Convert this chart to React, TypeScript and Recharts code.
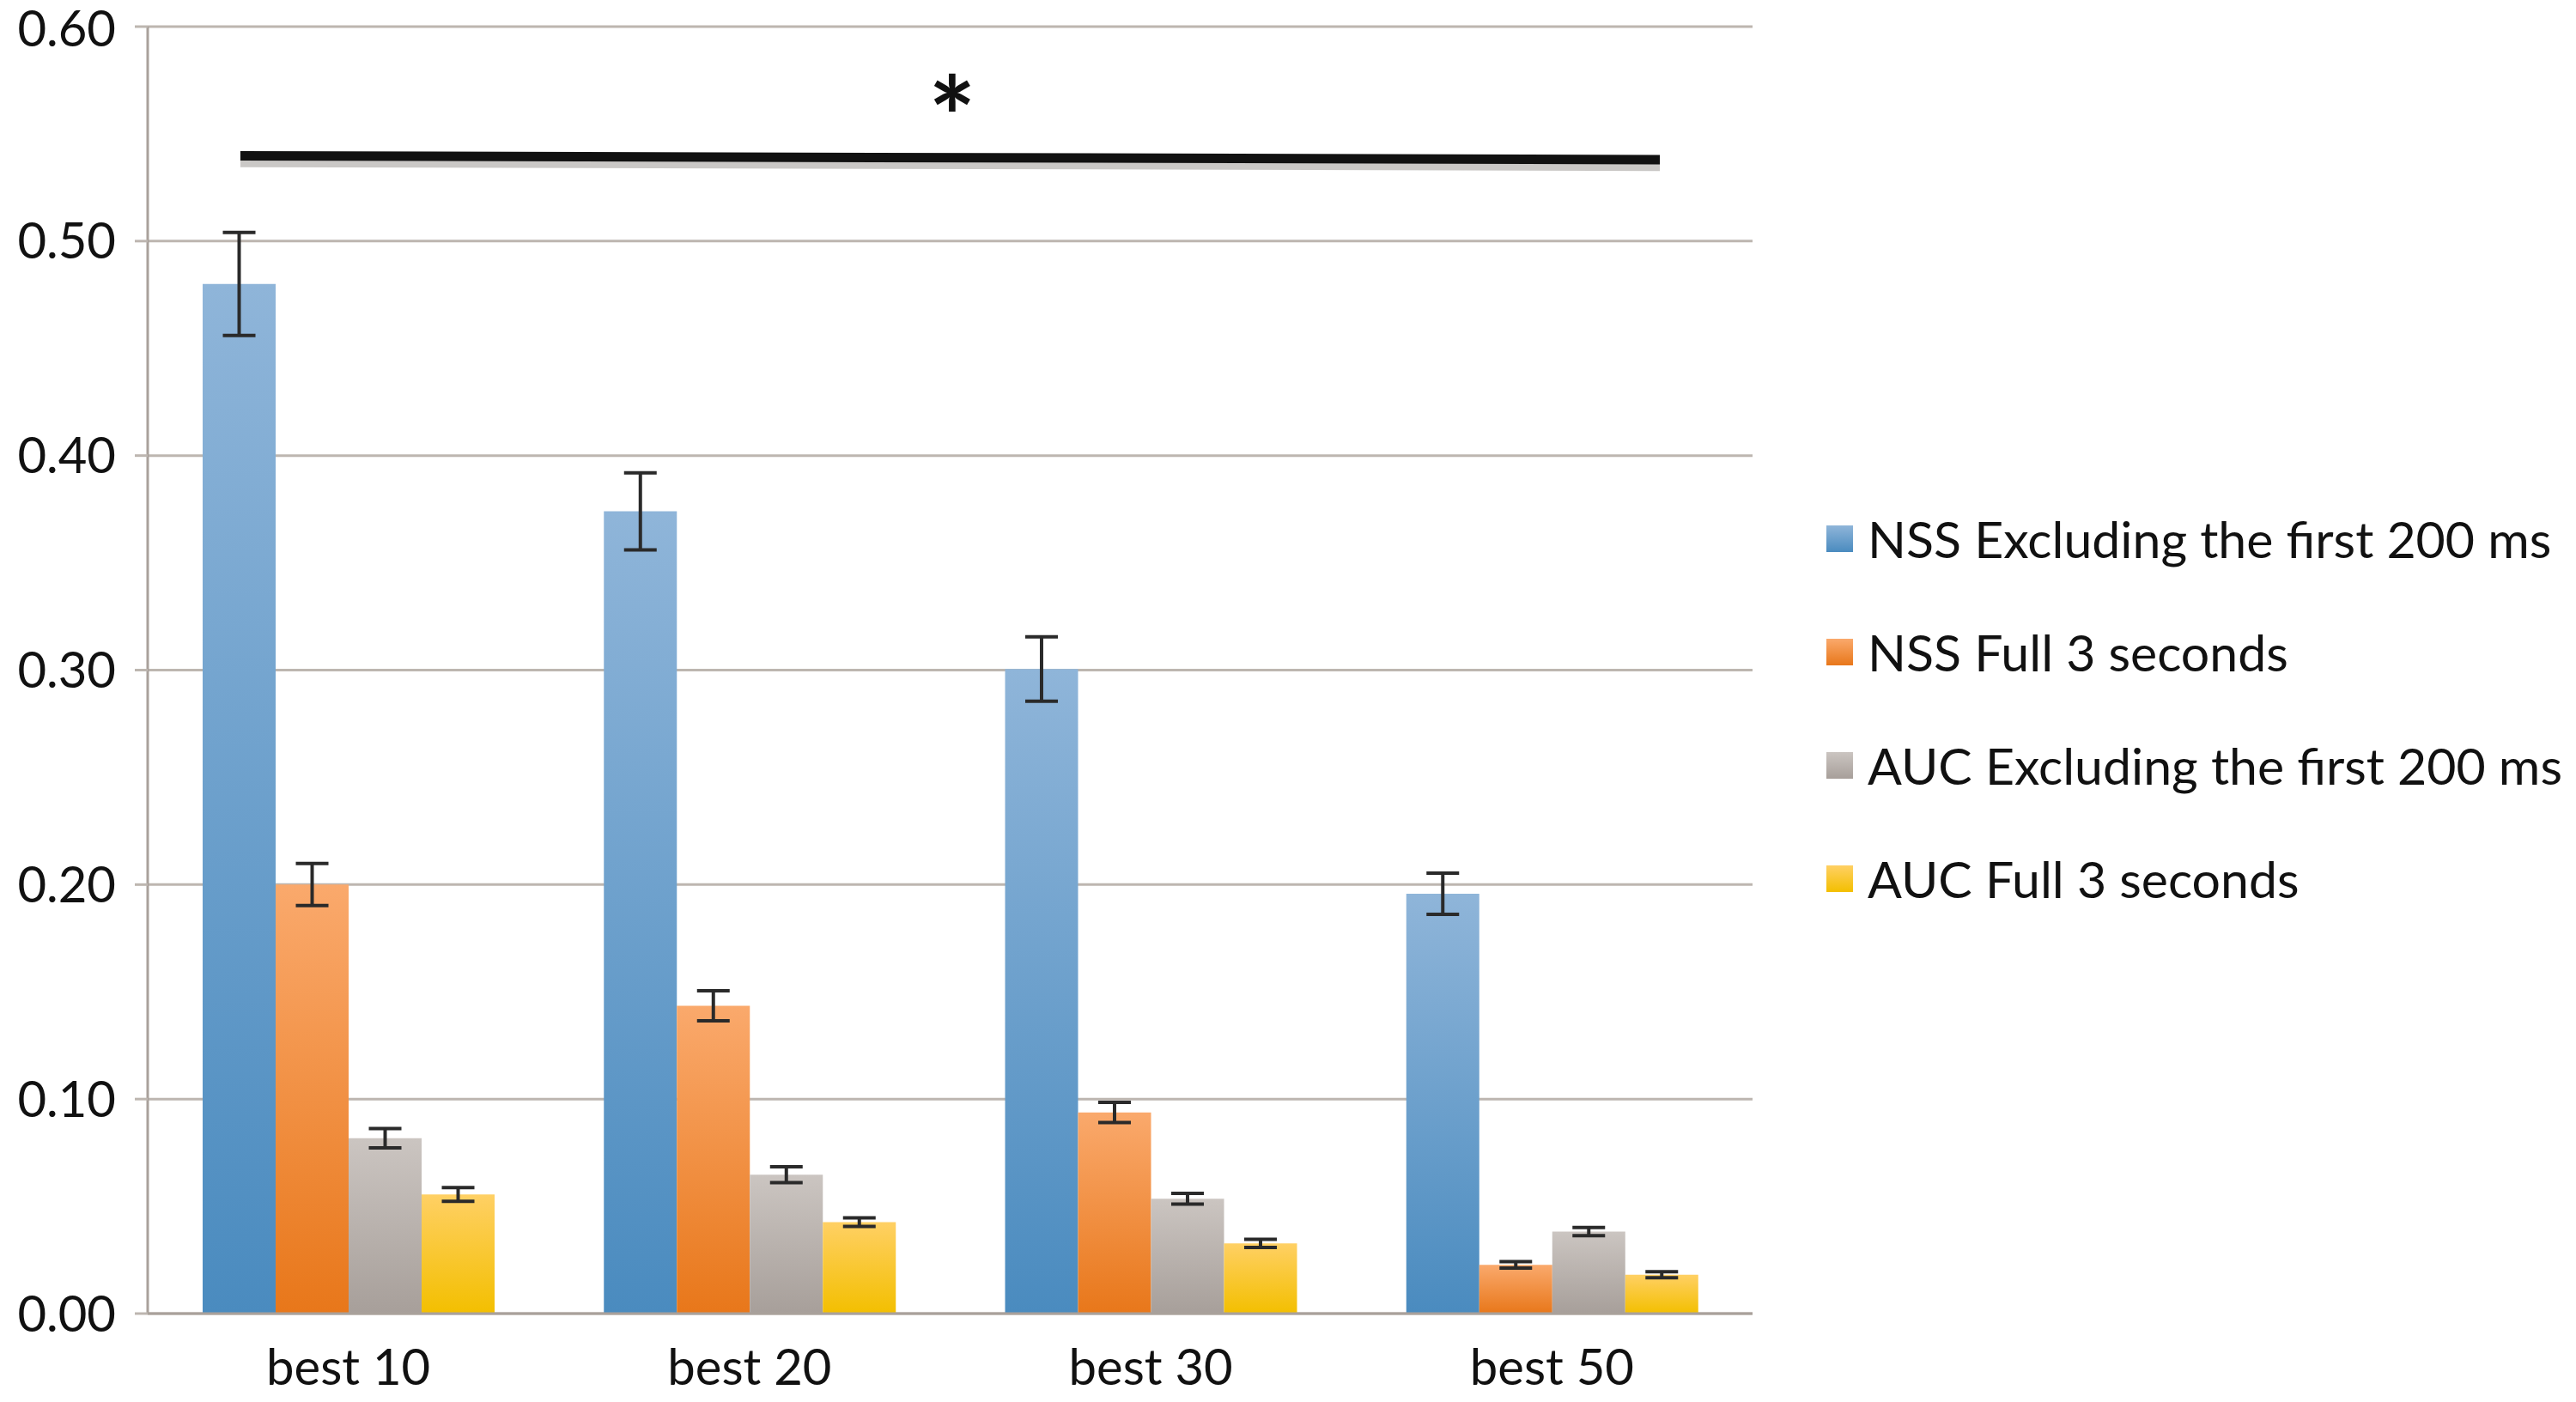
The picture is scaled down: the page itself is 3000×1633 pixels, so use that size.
import React from "react";
import {
  BarChart,
  Bar,
  XAxis,
  YAxis,
  CartesianGrid,
  ErrorBar,
  Legend,
  ReferenceLine,
  ReferenceDot,
} from "recharts";

const categories = ["best 10", "best 20", "best 30", "best 50"];
const positions = [0.5, 1.5, 2.5, 3.5];

const nssExcl = [0.48, 0.374, 0.3005, 0.1957];
const nssExclErr = [0.024, 0.018, 0.015, 0.0096];
const nssFull = [0.2, 0.1435, 0.0938, 0.0227];
const nssFullErr = [0.0098, 0.007, 0.0047, 0.0015];
const aucExcl = [0.0818, 0.0647, 0.0535, 0.0382];
const aucExclErr = [0.0045, 0.0037, 0.0025, 0.0019];
const aucFull = [0.0555, 0.0426, 0.0327, 0.0181];
const aucFullErr = [0.0032, 0.002, 0.0019, 0.0014];

const yTicks = [0, 0.1, 0.2, 0.3, 0.4, 0.5, 0.6];
const boundaryTicks = [0, 1, 2, 3, 4];

// significance bar, in category units on the hidden numeric axis
const sigStart = { x: 0.231, y: 0.5398 };
const sigEnd = { x: 3.769, y: 0.538 };
const sigStar = { x: 2.005, y: 0.5567 };

const series = [
  { key: "nssExcl", name: "NSS Excluding the first 200 ms", top: "#8fb5d9", bottom: "#4a8bbf" },
  { key: "nssFull", name: "NSS Full 3 seconds", top: "#faa96c", bottom: "#e8771a" },
  { key: "aucExcl", name: "AUC Excluding the first 200 ms", top: "#cbc5c1", bottom: "#a79f9a" },
  { key: "aucFull", name: "AUC Full 3 seconds", top: "#ffd064", bottom: "#f3bf00" },
];

const data = categories.map((name, i) => ({
  name,
  pos: positions[i],
  nssExcl: nssExcl[i],
  nssExclErr: nssExclErr[i],
  nssFull: nssFull[i],
  nssFullErr: nssFullErr[i],
  aucExcl: aucExcl[i],
  aucExclErr: aucExclErr[i],
  aucFull: aucFull[i],
  aucFullErr: aucFullErr[i],
}));

const FONT = "Lato, 'Open Sans', sans-serif";
const GRID = "#bdb6b0";

function LegendBox() {
  return (
    <div style={{ fontFamily: FONT, fontSize: 59, color: "#111" }}>
      {series.map((s) => (
        <div key={s.key} style={{ height: 132, display: "flex", alignItems: "center" }}>
          <div
            style={{
              width: 31,
              height: 31,
              marginRight: 17,
              background: `linear-gradient(${s.top}, ${s.bottom})`,
            }}
          />
          <span style={{ whiteSpace: "nowrap" }}>{s.name}</span>
        </div>
      ))}
    </div>
  );
}

export default function App() {
  return (
    <div style={{ position: "absolute", left: 0, top: 0, background: "#fff" }}>
      <BarChart
        width={3000}
        height={1633}
        data={data}
        margin={{ top: 31, right: 959, bottom: 0, left: 0 }}
        barCategoryGap="13.7%"
        barGap={0}
      >
        <defs>
          {series.map((s) => (
            <linearGradient key={s.key} id={`g-${s.key}`} x1="0" y1="0" x2="0" y2="1">
              <stop offset="0%" stopColor={s.top} />
              <stop offset="100%" stopColor={s.bottom} />
            </linearGradient>
          ))}
        </defs>
        <CartesianGrid vertical={false} stroke={GRID} strokeWidth={3} />
        <XAxis
          xAxisId="n"
          dataKey="pos"
          type="number"
          domain={[0, 4]}
          ticks={boundaryTicks}
          allowDataOverflow
          height={0}
          axisLine={false}
          tick={false}
          tickSize={15}
          tickLine={{ stroke: "#a9a19b", strokeWidth: 3 }}
        />
        <XAxis
          dataKey="name"
          height={103}
          tickLine={false}
          tickSize={0}
          tickMargin={42}
          axisLine={{ stroke: "#a9a19b", strokeWidth: 3 }}
          tick={{ fill: "#111", fontSize: 58, fontFamily: FONT }}
        />
        <YAxis
          width={172}
          domain={[0, 0.6]}
          ticks={yTicks}
          tickFormatter={(v: number) => v.toFixed(2)}
          tickSize={15}
          tickMargin={22}
          axisLine={{ stroke: "#a9a19b", strokeWidth: 3 }}
          tickLine={{ stroke: GRID, strokeWidth: 3 }}
          tick={{ fill: "#111", fontSize: 58, fontFamily: FONT }}
        />
        {series.map((s) => (
          <Bar
            key={s.key}
            dataKey={s.key}
            name={s.name}
            fill={`url(#g-${s.key})`}
            isAnimationActive={false}
          >
            <ErrorBar
              dataKey={`${s.key}Err`}
              width={19}
              strokeWidth={4}
              stroke="#2a2a2a"
            />
          </Bar>
        ))}
        <ReferenceLine
          xAxisId="n"
          segment={[
            { x: sigStart.x, y: sigStart.y - 0.0035 },
            { x: sigEnd.x, y: sigEnd.y - 0.0035 },
          ]}
          stroke="#8a8480"
          strokeOpacity={0.45}
          strokeWidth={9}
          ifOverflow="visible"
        />
        <ReferenceLine
          xAxisId="n"
          segment={[sigStart, sigEnd]}
          stroke="#111"
          strokeWidth={11}
          ifOverflow="visible"
        />
        <ReferenceDot
          xAxisId="n"
          x={sigStar.x}
          y={sigStar.y}
          r={0}
          fill="none"
          stroke="none"
          ifOverflow="visible"
          label={{
            value: "*",
            position: "center",
            fontSize: 130,
            fontWeight: 700,
            fontFamily: FONT,
            fill: "#111",
          }}
        />
        <Legend
          layout="vertical"
          align="center"
          verticalAlign="middle"
          wrapperStyle={{ left: 2127, top: 561, width: 870 }}
          content={() => <LegendBox />}
        />
      </BarChart>
    </div>
  );
}
